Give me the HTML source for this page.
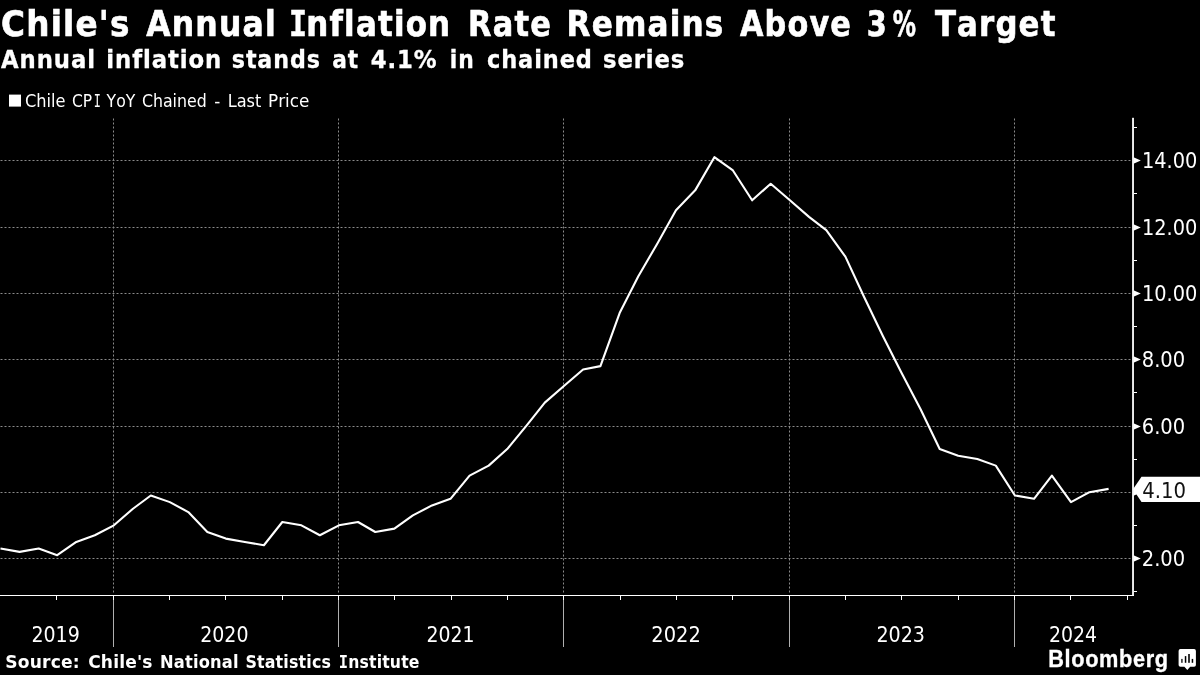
<!DOCTYPE html>
<html lang="en"><head><meta charset="utf-8"><title>Chile's Annual Inflation Rate Remains Above 3% Target</title>
<style>html,body{margin:0;padding:0;background:#000;}body{width:1200px;height:675px;overflow:hidden;}svg{display:block;}</style>
</head><body>
<svg width="1200" height="675" viewBox="0 0 1200 675">
<rect x="0" y="0" width="1200" height="675" fill="#000"/>
<g stroke="#8a8a8a" stroke-width="1" stroke-dasharray="2,2" fill="none">
<line x1="0.5" y1="558.5" x2="1131" y2="558.5"/>
<line x1="0.5" y1="492.5" x2="1131" y2="492.5"/>
<line x1="0.5" y1="426.5" x2="1131" y2="426.5"/>
<line x1="0.5" y1="359.5" x2="1131" y2="359.5"/>
<line x1="0.5" y1="293.5" x2="1131" y2="293.5"/>
<line x1="0.5" y1="227.5" x2="1131" y2="227.5"/>
<line x1="0.5" y1="160.5" x2="1131" y2="160.5"/>
<line x1="113.5" y1="118.5" x2="113.5" y2="594.0"/>
<line x1="338.5" y1="118.5" x2="338.5" y2="594.0"/>
<line x1="563.5" y1="118.5" x2="563.5" y2="594.0"/>
<line x1="789.5" y1="118.5" x2="789.5" y2="594.0"/>
<line x1="1014.5" y1="118.5" x2="1014.5" y2="594.0"/>
</g>
<rect x="1132.12" y="117.8" width="1.8" height="478.1" fill="#fff"/>
<g fill="#fff" shape-rendering="crispEdges">
<rect x="0" y="594.9" width="1133.5" height="1.2"/>
<rect x="1134.0" y="591" width="3" height="1"/>
<rect x="1134.0" y="525" width="3" height="1"/>
<rect x="1134.0" y="459" width="3" height="1"/>
<rect x="1134.0" y="392" width="3" height="1"/>
<rect x="1134.0" y="326" width="3" height="1"/>
<rect x="1134.0" y="260" width="3" height="1"/>
<rect x="1134.0" y="193" width="3" height="1"/>
<rect x="1134.0" y="127" width="3" height="1"/>
</g>
<g fill="#fff">
<path d="M1133.5 555.20 L1140.8 558.50 L1133.5 561.80 Z"/>
<path d="M1133.5 489.20 L1140.8 492.50 L1133.5 495.80 Z"/>
<path d="M1133.5 423.20 L1140.8 426.50 L1133.5 429.80 Z"/>
<path d="M1133.5 356.20 L1140.8 359.50 L1133.5 362.80 Z"/>
<path d="M1133.5 290.20 L1140.8 293.50 L1133.5 296.80 Z"/>
<path d="M1133.5 224.20 L1140.8 227.50 L1133.5 230.80 Z"/>
<path d="M1133.5 157.20 L1140.8 160.50 L1133.5 163.80 Z"/>
</g>
<g shape-rendering="crispEdges">
<rect x="56" y="596.0" width="1" height="4" fill="#fff"/>
<rect x="113" y="596.0" width="1" height="51.0" fill="#b0b0b0"/>
<rect x="113" y="596.0" width="1" height="4" fill="#fff"/>
<rect x="169" y="596.0" width="1" height="4" fill="#fff"/>
<rect x="225" y="596.0" width="1" height="4" fill="#fff"/>
<rect x="282" y="596.0" width="1" height="4" fill="#fff"/>
<rect x="338" y="596.0" width="1" height="51.0" fill="#b0b0b0"/>
<rect x="338" y="596.0" width="1" height="4" fill="#fff"/>
<rect x="394" y="596.0" width="1" height="4" fill="#fff"/>
<rect x="451" y="596.0" width="1" height="4" fill="#fff"/>
<rect x="507" y="596.0" width="1" height="4" fill="#fff"/>
<rect x="563" y="596.0" width="1" height="51.0" fill="#b0b0b0"/>
<rect x="563" y="596.0" width="1" height="4" fill="#fff"/>
<rect x="620" y="596.0" width="1" height="4" fill="#fff"/>
<rect x="676" y="596.0" width="1" height="4" fill="#fff"/>
<rect x="732" y="596.0" width="1" height="4" fill="#fff"/>
<rect x="789" y="596.0" width="1" height="51.0" fill="#b0b0b0"/>
<rect x="789" y="596.0" width="1" height="4" fill="#fff"/>
<rect x="845" y="596.0" width="1" height="4" fill="#fff"/>
<rect x="901" y="596.0" width="1" height="4" fill="#fff"/>
<rect x="958" y="596.0" width="1" height="4" fill="#fff"/>
<rect x="1014" y="596.0" width="1" height="51.0" fill="#b0b0b0"/>
<rect x="1014" y="596.0" width="1" height="4" fill="#fff"/>
<rect x="1070" y="596.0" width="1" height="4" fill="#fff"/>
<rect x="1127" y="596.0" width="1" height="4" fill="#fff"/>
</g>
<polyline points="0.48,548.55 19.59,551.87 38.70,548.55 57.19,555.18 76.30,541.92 94.79,535.28 113.90,525.33 132.96,508.75 150.79,495.48 169.84,502.12 188.29,512.07 207.34,531.97 225.79,538.60 244.84,541.92 263.90,545.23 282.34,522.02 301.40,525.33 319.84,535.28 338.90,525.33 358.01,522.02 375.27,531.97 394.38,528.65 412.87,515.38 431.98,505.43 450.48,498.80 469.58,475.58 488.69,465.63 507.19,449.05 526.30,425.83 544.79,402.62 563.90,386.03 583.09,369.45 600.43,366.13 619.63,313.07 638.20,276.58 657.40,243.42 675.97,210.25 695.17,190.35 714.36,157.18 732.94,170.45 752.13,200.30 770.71,183.72 789.90,200.30 809.01,216.88 826.27,230.15 845.38,256.68 863.87,296.48 882.98,336.28 901.48,372.77 920.58,409.25 939.69,449.05 958.19,455.68 977.30,459.00 995.79,465.63 1014.90,495.48 1034.01,498.80 1051.88,475.58 1070.99,502.12 1089.48,492.17 1108.59,488.85" fill="none" stroke="#fff" stroke-width="2.1" stroke-linejoin="round" stroke-linecap="butt"/>
<text y="566.10" fill="#fff" font-family="'DejaVu Sans Condensed','DejaVu Sans','Liberation Sans',sans-serif" font-size="21.50" style="font-variant-ligatures:none;font-kerning:none"><tspan x="1141.73" textLength="43.47" lengthAdjust="spacingAndGlyphs">2.00</tspan></text>
<text y="434.10" fill="#fff" font-family="'DejaVu Sans Condensed','DejaVu Sans','Liberation Sans',sans-serif" font-size="21.50" style="font-variant-ligatures:none;font-kerning:none"><tspan x="1141.73" textLength="43.47" lengthAdjust="spacingAndGlyphs">6.00</tspan></text>
<text y="367.10" fill="#fff" font-family="'DejaVu Sans Condensed','DejaVu Sans','Liberation Sans',sans-serif" font-size="21.50" style="font-variant-ligatures:none;font-kerning:none"><tspan x="1141.73" textLength="43.47" lengthAdjust="spacingAndGlyphs">8.00</tspan></text>
<text y="301.10" fill="#fff" font-family="'DejaVu Sans Condensed','DejaVu Sans','Liberation Sans',sans-serif" font-size="21.50" style="font-variant-ligatures:none;font-kerning:none"><tspan x="1141.93" textLength="55.35" lengthAdjust="spacingAndGlyphs">10.00</tspan></text>
<text y="235.10" fill="#fff" font-family="'DejaVu Sans Condensed','DejaVu Sans','Liberation Sans',sans-serif" font-size="21.50" style="font-variant-ligatures:none;font-kerning:none"><tspan x="1141.93" textLength="55.35" lengthAdjust="spacingAndGlyphs">12.00</tspan></text>
<text y="168.10" fill="#fff" font-family="'DejaVu Sans Condensed','DejaVu Sans','Liberation Sans',sans-serif" font-size="21.50" style="font-variant-ligatures:none;font-kerning:none"><tspan x="1141.93" textLength="55.35" lengthAdjust="spacingAndGlyphs">14.00</tspan></text>
<path d="M1133.0 489.35 L1141.5 476.80 L1200 476.80 L1200 501.90 L1141.5 501.90 Z" fill="#fff"/>
<text y="497.75" fill="#111" font-family="'DejaVu Sans Condensed','DejaVu Sans','Liberation Sans',sans-serif" font-size="21.50" style="font-variant-ligatures:none;font-kerning:none"><tspan x="1142.24" textLength="43.87" lengthAdjust="spacingAndGlyphs">4.10</tspan></text>
<text y="642.00" fill="#fff" font-family="'DejaVu Sans Condensed','DejaVu Sans','Liberation Sans',sans-serif" font-size="21.50" style="font-variant-ligatures:none;font-kerning:none"><tspan x="31.41" textLength="48.37" lengthAdjust="spacingAndGlyphs">2019</tspan></text>
<text y="642.00" fill="#fff" font-family="'DejaVu Sans Condensed','DejaVu Sans','Liberation Sans',sans-serif" font-size="21.50" style="font-variant-ligatures:none;font-kerning:none"><tspan x="200.16" textLength="48.30" lengthAdjust="spacingAndGlyphs">2020</tspan></text>
<text y="642.00" fill="#fff" font-family="'DejaVu Sans Condensed','DejaVu Sans','Liberation Sans',sans-serif" font-size="21.50" style="font-variant-ligatures:none;font-kerning:none"><tspan x="426.42" textLength="48.01" lengthAdjust="spacingAndGlyphs">2021</tspan></text>
<text y="642.00" fill="#fff" font-family="'DejaVu Sans Condensed','DejaVu Sans','Liberation Sans',sans-serif" font-size="21.50" style="font-variant-ligatures:none;font-kerning:none"><tspan x="651.37" textLength="49.52" lengthAdjust="spacingAndGlyphs">2022</tspan></text>
<text y="642.00" fill="#fff" font-family="'DejaVu Sans Condensed','DejaVu Sans','Liberation Sans',sans-serif" font-size="21.50" style="font-variant-ligatures:none;font-kerning:none"><tspan x="876.40" textLength="48.57" lengthAdjust="spacingAndGlyphs">2023</tspan></text>
<text y="642.00" fill="#fff" font-family="'DejaVu Sans Condensed','DejaVu Sans','Liberation Sans',sans-serif" font-size="21.50" style="font-variant-ligatures:none;font-kerning:none"><tspan x="1048.92" textLength="48.09" lengthAdjust="spacingAndGlyphs">2024</tspan></text>
<text stroke="#fff" stroke-width="0.6" y="36.25" fill="#fff" font-family="'DejaVu Sans Condensed','DejaVu Sans','Liberation Sans',sans-serif" font-size="35.70" font-weight="bold" style="font-variant-ligatures:none;font-kerning:none;letter-spacing:0.035em"><tspan x="0.97" textLength="129.83" lengthAdjust="spacingAndGlyphs">Chile's</tspan> <tspan x="146.20" textLength="130.80" lengthAdjust="spacingAndGlyphs">Annual</tspan> <tspan x="288.88" textLength="19.08" lengthAdjust="spacingAndGlyphs" font-family="'DejaVu Sans Mono','Liberation Mono',monospace">I</tspan><tspan x="306.30" textLength="145.01" lengthAdjust="spacingAndGlyphs">nflation</tspan> <tspan x="468.11" textLength="83.84" lengthAdjust="spacingAndGlyphs">Rate</tspan> <tspan x="566.50" textLength="158.08" lengthAdjust="spacingAndGlyphs">Remains</tspan> <tspan x="739.95" textLength="112.09" lengthAdjust="spacingAndGlyphs">Above</tspan> <tspan x="866.68" textLength="21.11" lengthAdjust="spacingAndGlyphs">3</tspan><tspan x="892.86" textLength="24.18" lengthAdjust="spacingAndGlyphs">%</tspan> <tspan x="934.95" textLength="121.65" lengthAdjust="spacingAndGlyphs">Target</tspan></text>
<text stroke="#fff" stroke-width="0.35" y="68.10" fill="#fff" font-family="'DejaVu Sans','Liberation Sans',sans-serif" font-size="25.00" font-weight="bold" style="font-variant-ligatures:none;font-kerning:none;letter-spacing:0.040em"><tspan x="1.04" textLength="94.83" lengthAdjust="spacingAndGlyphs">Annual</tspan> <tspan x="106.34" textLength="115.90" lengthAdjust="spacingAndGlyphs">inflation</tspan> <tspan x="231.80" textLength="88.93" lengthAdjust="spacingAndGlyphs">stands</tspan> <tspan x="332.22" textLength="26.69" lengthAdjust="spacingAndGlyphs">at</tspan> <tspan x="370.68" textLength="66.75" lengthAdjust="spacingAndGlyphs">4.1%</tspan> <tspan x="449.87" textLength="24.76" lengthAdjust="spacingAndGlyphs">in</tspan> <tspan x="486.98" textLength="105.85" lengthAdjust="spacingAndGlyphs">chained</tspan> <tspan x="603.02" textLength="82.26" lengthAdjust="spacingAndGlyphs">series</tspan></text>
<rect x="9" y="94.6" width="12" height="12" fill="#fff"/>
<text y="106.70" fill="#fff" font-family="'DejaVu Sans Condensed','DejaVu Sans','Liberation Sans',sans-serif" font-size="17.80" style="font-variant-ligatures:none;font-kerning:none"><tspan x="24.99" textLength="40.58" lengthAdjust="spacingAndGlyphs">Chile</tspan> <tspan x="71.92" textLength="20.21" lengthAdjust="spacingAndGlyphs">CP</tspan><tspan x="93.74" textLength="7.14" lengthAdjust="spacingAndGlyphs" font-family="'DejaVu Sans Mono','Liberation Mono',monospace">I</tspan> <tspan x="106.58" textLength="28.67" lengthAdjust="spacingAndGlyphs">YoY</tspan> <tspan x="141.91" textLength="64.82" lengthAdjust="spacingAndGlyphs">Chained</tspan> <tspan x="214.23" textLength="6.03" lengthAdjust="spacingAndGlyphs">-</tspan> <tspan x="227.71" textLength="33.61" lengthAdjust="spacingAndGlyphs">Last</tspan> <tspan x="268.05" textLength="41.30" lengthAdjust="spacingAndGlyphs">Price</tspan></text>
<text y="667.80" fill="#fff" font-family="'DejaVu Sans','Liberation Sans',sans-serif" font-size="17.00" font-weight="bold" style="font-variant-ligatures:none;font-kerning:none;letter-spacing:0.010em"><tspan x="5.32" textLength="74.46" lengthAdjust="spacingAndGlyphs">Source:</tspan> <tspan x="88.20" textLength="64.48" lengthAdjust="spacingAndGlyphs">Chile's</tspan> <tspan x="160.06" textLength="78.57" lengthAdjust="spacingAndGlyphs">National</tspan> <tspan x="245.41" textLength="85.70" lengthAdjust="spacingAndGlyphs">Statistics</tspan> <tspan x="338.70" textLength="9.45" lengthAdjust="spacingAndGlyphs" font-family="'DejaVu Sans Mono','Liberation Mono',monospace">I</tspan><tspan x="348.28" textLength="71.33" lengthAdjust="spacingAndGlyphs">nstitute</tspan></text>
<text stroke="#fff" stroke-width="0.35" y="666.80" fill="#fff" font-family="'Liberation Sans','DejaVu Sans',sans-serif" font-size="24.60" font-weight="bold" style="font-variant-ligatures:none;font-kerning:none;letter-spacing:0.030em"><tspan x="1048.15" textLength="120.66" lengthAdjust="spacingAndGlyphs">Bloomberg</tspan></text>
<g><path d="M1180.4 649.1 H1194.1 a1.8 1.8 0 0 1 1.8 1.8 V664.9 a1.8 1.8 0 0 1 -1.8 1.8 H1190.2 L1187.3 670.1 L1184.4 666.7 H1180.4 a1.8 1.8 0 0 1 -1.8 -1.8 V650.9 a1.8 1.8 0 0 1 1.8 -1.8 Z" fill="#fff"/>
<g fill="#000"><rect x="1181.1" y="658.9" width="1.6" height="3.9" fill="#333"/><rect x="1184.8" y="656.1" width="1.5" height="6.7"/><rect x="1188.2" y="654" width="1.6" height="8.8"/><rect x="1191.7" y="658.9" width="1.5" height="3.9"/></g></g>
</svg>
</body></html>
